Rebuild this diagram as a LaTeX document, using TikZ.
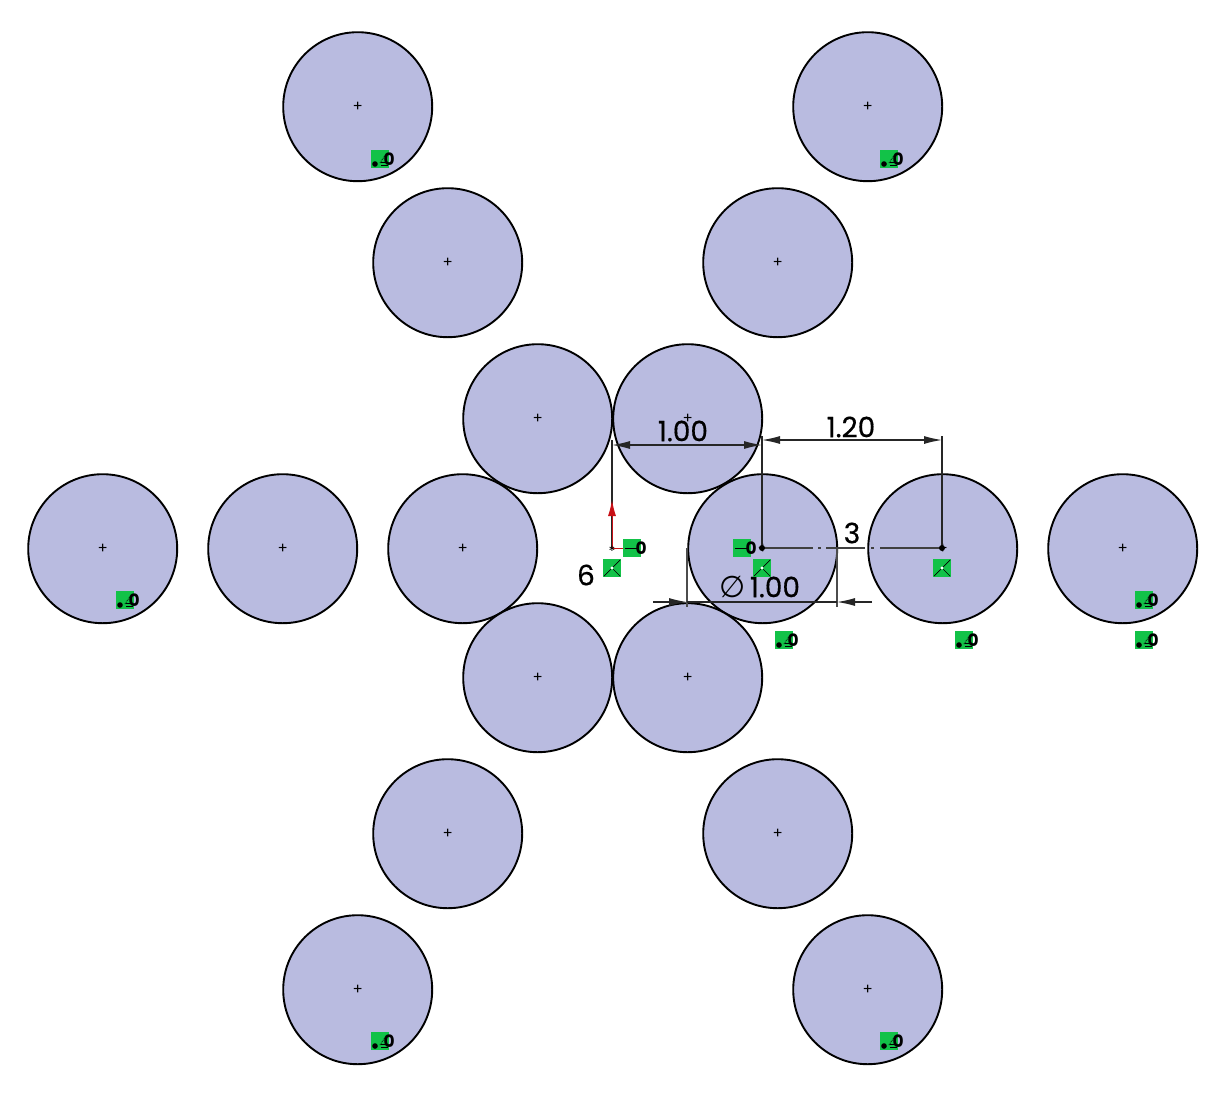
\documentclass[tikz,border=0pt]{standalone}
\usepackage{fontspec}
\setmainfont{Poppins}
\newfontfamily\dimfont{Poppins}[FakeBold=0.5]
\newfontfamily\symfont{DejaVu Sans}
\usetikzlibrary{arrows.meta}
\definecolor{holeblue}{RGB}{185,187,224}
\definecolor{tagcolor}{RGB}{18,194,72}
\definecolor{axisred}{RGB}{200,16,22}
\tikzset{
    hole/.style={circle, draw=black, line width=1.9pt, fill=holeblue, minimum size=149pt, inner sep=0pt, xshift=.7pt, yshift=-.7pt, font=\fontsize{15}{15}\selectfont},
    dim/.style={font=\fontsize{28}{28}\selectfont\dimfont, inner sep=0pt},
    dimline/.style={line width=1.2pt, draw=black!85},
    dimtip/.style={-{Latex[length=18pt,width=8pt]}},
    tagbox/.style={fill=tagcolor, minimum size=18pt, inner sep=0pt},
    tagzero/.style={font=\fontsize{17}{17}\selectfont\bfseries, inner sep=0pt}
}
% relation tags on the sketch
\newcommand{\pitchtag}[2]{
    \node [tagbox] (#1) at (#2) {};
    \fill (#1.center) ++(-5,5) circle (2.8);
    \draw [densely dotted, line width=.8pt] (#1.center) ++(0,4) -- ++(6,-9);
    \draw [line width=.7pt] (#1.center) ++(1,6) -- ++(7,0) ++(-7,-3) -- ++(7,0);
    \node [tagzero] at (#1.east) {0};
}
\newcommand{\horiztag}[2]{
    \node [tagbox] (#1) at (#2) {};
    \draw [line width=.8pt] (#1.west) ++(2,0) -- ++(13,0);
    \node [tagzero] at (#1.east) {0};
}
\newcommand{\crosstag}[2]{
    \node [tagbox] (#1) at (#2) {};
    \draw [line width=.7pt] (#1.north east) ++(-1,1) -- (#1.center) -- ++(-8,8) (#1.center) -- ++(8,8);
    \fill [white] (#1.center) circle (1.6);
}
\begin{document}
\begin{tikzpicture}[x=1pt, y=-1pt]
    \useasboundingbox (0,0) rectangle (1220,1095);

    % First, locate each of the circles and name them
    \foreach \name/\px/\py in {a/357/106, b/867/106, c/447/262, d/777/262, e/537/418, f/687/418,
        g/102/548, h/282/548, i/462/548, j/762/548, k/942/548, l/1122/548,
        m/537/677, n/687/677, o/447/833, p/777/833, q/357/989, r/867/989}
        \node [hole] (\name) at (\px,\py) {+};

    % Now the points that the dimensions hang from
    \coordinate (origin) at (612,548);
    \coordinate (axistip) at (612,500);
    \coordinate (leftext) at (612,440);
    \coordinate (midext) at (762,436);
    \coordinate (rightext) at (942,436);
    \coordinate (lefttop) at (612,445);
    \coordinate (midtop) at (762,445);
    \coordinate (midupper) at (762,440);
    \coordinate (rightupper) at (942,440);
    \coordinate (diamleft) at (687,602);
    \coordinate (diamright) at (837,602);
    \coordinate (diamfarleft) at (653,602);
    \coordinate (diamfarright) at (872,602);
    \coordinate (diamlow) at (687,607);
    \coordinate (diamlowr) at (837,607);
    \coordinate (diamhigh) at (687,548);
    \coordinate (diamhighr) at (837,548);
    \coordinate (centreleft) at (762,548);
    \coordinate (centreright) at (942,548);

    % Extension lines
    \draw [dimline] (origin) -- (leftext);
    \draw [dimline] (centreleft) -- (midext);
    \draw [dimline] (centreright) -- (rightext);
    \draw [dimline, black!70] (diamhigh) -- (diamlow);
    \draw [dimline, black!70] (diamhighr) -- (diamlowr);
    \draw [dimline, black!75, dash pattern=on 51pt off 5pt on 3pt off 5pt on 39pt off 6pt on 3pt off 6pt on 62pt] (centreleft) -- (centreright);

    % Dimension lines
    \draw [dimline, {Latex[length=18pt,width=8pt]}-{Latex[length=18pt,width=8pt]}] (lefttop) -- (midtop);
    \draw [dimline, {Latex[length=18pt,width=8pt]}-{Latex[length=18pt,width=8pt]}] (midupper) -- (rightupper);
    \draw [dimline, dimtip] (diamfarleft) -- (diamleft);
    \draw [dimline, dimtip] (diamfarright) -- (diamright);
    \draw [dimline] (diamleft) -- (diamright);

    % Sketch origin with its red axes
    \draw [axisred, line width=1pt, -{Latex[length=16pt,width=8pt]}] (origin) -- (axistip);
    \draw [axisred, line width=1pt] (origin) -- ++(14,0);
    \node [inner sep=0pt, font=\fontsize{14}{14}\selectfont] (originmark) at (612,551) {*};

    % Centre points of the two driven circles
    \fill (centreleft) circle (3);
    \fill (centreright) circle (3);

    % Labels
    \node [dim] (dimmid) at (683,431) {1.00};
    \node [dim] (dimpitch) at (851,427) {1.20};
    \node [dim] (dimphi) at (775,587) {1.00};
    \node [dim, font=\fontsize{30}{30}\selectfont\symfont] (phi) at (733,587) {∅};
    \node [dim] (countcol) at (852,533) {3};
    \node [dim] (countrow) at (586,575) {6};

    % Relation tags
    \pitchtag{ta}{380,159}
    \pitchtag{tb}{889,159}
    \pitchtag{tg}{125,600}
    \pitchtag{tj}{784,640}
    \pitchtag{tk}{964,640}
    \pitchtag{tl}{1144,600}
    \pitchtag{tm}{1144,640}
    \pitchtag{tq}{380,1041}
    \pitchtag{tr}{889,1041}
    \horiztag{ho}{632,548}
    \horiztag{hj}{742,548}
    \crosstag{xo}{612,568}
    \crosstag{xj}{762,568}
    \crosstag{xk}{942,568}
\end{tikzpicture}
\end{document}
